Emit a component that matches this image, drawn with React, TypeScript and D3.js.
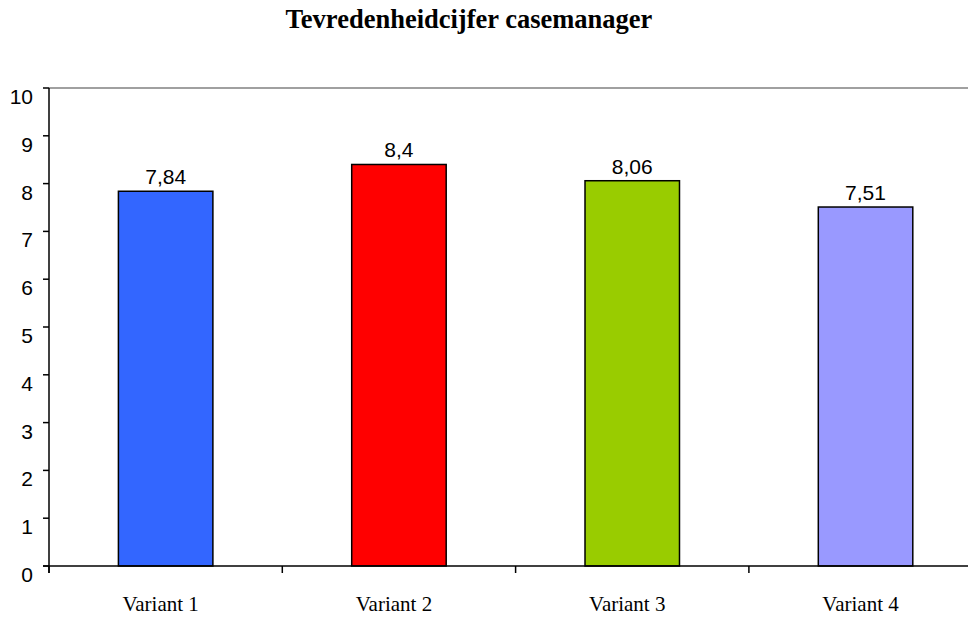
import * as d3 from 'd3'

const title = 'Tevredenheidcijfer casemanager'
const categories = ['Variant 1', 'Variant 2', 'Variant 3', 'Variant 4']
const values = [7.84, 8.4, 8.06, 7.51]
const barColors = ['#3366FF', '#FF0000', '#99CC00', '#9999FF']
const yTicks = [0, 1, 2, 3, 4, 5, 6, 7, 8, 9, 10]

export default function App() {
  const width = 968
  const height = 617
  const left = 49
  const top = 88
  const bottom = 566
  const step = 233.3

  const x = d3.scaleBand<string>()
    .domain(categories)
    .range([left, left + step * categories.length])
    .padding(0)

  const y = d3.scaleLinear().domain([0, 10]).range([bottom, top])
  const barW = x.bandwidth() * 0.405
  const fmt = (v: number) => String(v).replace('.', ',')

  return (
    <svg
      width={width}
      height={height}
      style={{ position: 'absolute', left: 0, top: 0, background: '#fff' }}
    >
      <text
        x={469}
        y={28}
        textAnchor="middle"
        fontFamily="Liberation Serif, Times New Roman, serif"
        fontWeight="bold"
        fontSize={26.5}
        fill="#000"
      >
        {title}
      </text>

      {/* top frame line */}
      <line x1={left} x2={width} y1={y(10)} y2={y(10)} stroke="#808080" strokeWidth={1.5} />

      {/* bars */}
      {categories.map((c, i) => {
        const cx = x(c)! + x.bandwidth() / 2
        return (
          <g key={c}>
            <rect
              x={cx - barW / 2}
              y={y(values[i])}
              width={barW}
              height={y(0) - y(values[i])}
              fill={barColors[i]}
              stroke="#000"
              strokeWidth={1.5}
            />
            <text
              x={cx}
              y={y(values[i]) - 7}
              textAnchor="middle"
              fontFamily="Liberation Sans, Arial, sans-serif"
              fontSize={21}
              fill="#000"
            >
              {fmt(values[i])}
            </text>
            <text
              x={cx - 5}
              y={611}
              textAnchor="middle"
              fontFamily="Liberation Serif, Times New Roman, serif"
              fontSize={21}
              fill="#000"
            >
              {c}
            </text>
          </g>
        )
      })}

      {/* y axis */}
      <line x1={left} x2={left} y1={y(10)} y2={y(0) + 7} stroke="#000" strokeWidth={1.5} />
      {yTicks.map((t) => (
        <g key={t}>
          <line x1={left - 6} x2={left} y1={y(t)} y2={y(t)} stroke="#000" strokeWidth={1.5} />
          <text
            x={33}
            y={y(t) + 16}
            textAnchor="end"
            fontFamily="Liberation Sans, Arial, sans-serif"
            fontSize={21}
            fill="#000"
          >
            {t}
          </text>
        </g>
      ))}

      {/* x axis */}
      <line x1={left - 6} x2={width} y1={y(0)} y2={y(0)} stroke="#000" strokeWidth={1.5} />
      {categories.map((c) => (
        <line
          key={c}
          x1={x(c)!}
          x2={x(c)!}
          y1={y(0)}
          y2={y(0) + 7}
          stroke="#000"
          strokeWidth={1.5}
        />
      ))}
    </svg>
  )
}
